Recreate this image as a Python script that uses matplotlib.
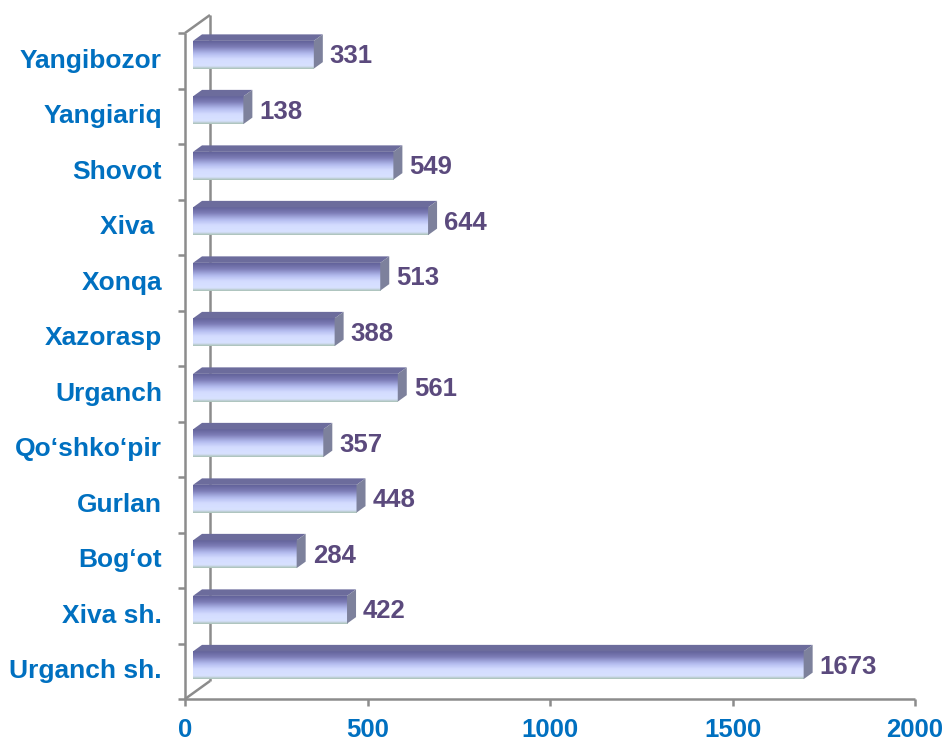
import numpy as np
import matplotlib.pyplot as plt
from matplotlib.colors import LinearSegmentedColormap
from matplotlib.patches import Polygon

# data (bottom to top)
districts = ['Urganch sh.', 'Xiva sh.', 'Bog‘ot', 'Gurlan', 'Qo‘shko‘pir', 'Urganch',
             'Xazorasp', 'Xonqa', 'Xiva ', 'Shovot', 'Yangiariq', 'Yangibozor']
values = [1673, 422, 284, 448, 357, 561, 388, 513, 644, 549, 138, 331]
xticks = [0, 500, 1000, 1500, 2000]

plt.rcParams['font.family'] = ['Liberation Sans', 'DejaVu Sans']

W, H, DPI = 946, 742, 100
fig = plt.figure(figsize=(W / DPI, H / DPI), dpi=DPI)

# front plane of the 3D box, in pixels
left, right, top, bottom = 185, 915, 33, 699
ax = fig.add_axes([left / W, (H - bottom) / H, (right - left) / W, (bottom - top) / H])
ax.set_xlim(0, 2000)
ax.set_ylim(-0.5, len(districts) - 0.5)
ax.axis('off')

px = 2000 / (right - left)              # data units per pixel, x
py = len(districts) / (bottom - top)    # data units per pixel, y

grid_col = '#8c8c8c'
# depth of the box
dep_x, dep_y = 25 * px, 18 * py
y0, y1 = -0.5, len(districts) - 0.5
kw = dict(color=grid_col, lw=1.8, clip_on=False, solid_capstyle='butt')
ax.plot([0, 0], [y0, y1], **kw)
ax.plot([dep_x, dep_x], [y0 + dep_y, y1 + dep_y], **kw, zorder=0)
ax.plot([0, dep_x], [y1, y1 + dep_y], **kw)
ax.plot([0, dep_x], [y0, y0 + dep_y], **kw)
ax.plot([0, 2000], [y0, y0], **kw)
for k in range(len(districts) + 1):
    ax.plot([-7 * px, 0], [y0 + k, y0 + k], **kw)
for t in xticks:
    ax.plot([t, t], [y0, y0 - 7 * py], **kw)
    ax.text(t, y0 - 19 * py, str(t), ha='center', va='top', fontsize=18.5,
            fontweight='bold', color='#0070c0')

# bars
cmap = LinearSegmentedColormap.from_list('bar', [
    (0.0, '#63639a'), (0.2, '#7c7cb6'), (0.45, '#b4bcef'),
    (0.65, '#d4dcff'), (0.9, '#d8e2ff'), (1.0, '#a9c0b4')])
grad = np.linspace(0, 1, 64).reshape(-1, 1)
off_x, off_y = 8 * px, 6 * py     # front face of bar behind the front plane
bd_x, bd_y = 9 * px, 6.5 * py     # bar depth
hh = 0.25
for i, (name, v) in enumerate(zip(districts, values)):
    xa, xb = off_x, off_x + v
    ya, yb = i - hh + off_y, i + hh + off_y
    ax.imshow(grad, cmap=cmap, extent=[xa, xb, ya, yb], aspect='auto',
              interpolation='bicubic', zorder=3)
    ax.add_patch(Polygon([(xa, yb), (xb, yb), (xb + bd_x, yb + bd_y), (xa + bd_x, yb + bd_y)],
                         closed=True, facecolor='#6c6c9c', edgecolor='none', zorder=3))
    ax.add_patch(Polygon([(xb, ya), (xb + bd_x, ya + bd_y), (xb + bd_x, yb + bd_y), (xb, yb)],
                         closed=True, facecolor='#7d819c', edgecolor='none', zorder=3))
    ax.text(xb + bd_x + 7 * px, i + off_y - 1.5 * py, str(v), ha='left', va='center', fontsize=18.5,
            fontweight='bold', color='#5b4a7d', zorder=4)
    ax.text(-23 * px, i, name, ha='right', va='center', fontsize=19,
            fontweight='bold', color='#0070c0')

ax.set_xlim(0, 2000)
ax.set_ylim(-0.5, len(districts) - 0.5)
fig.savefig('out.png', dpi=DPI)
